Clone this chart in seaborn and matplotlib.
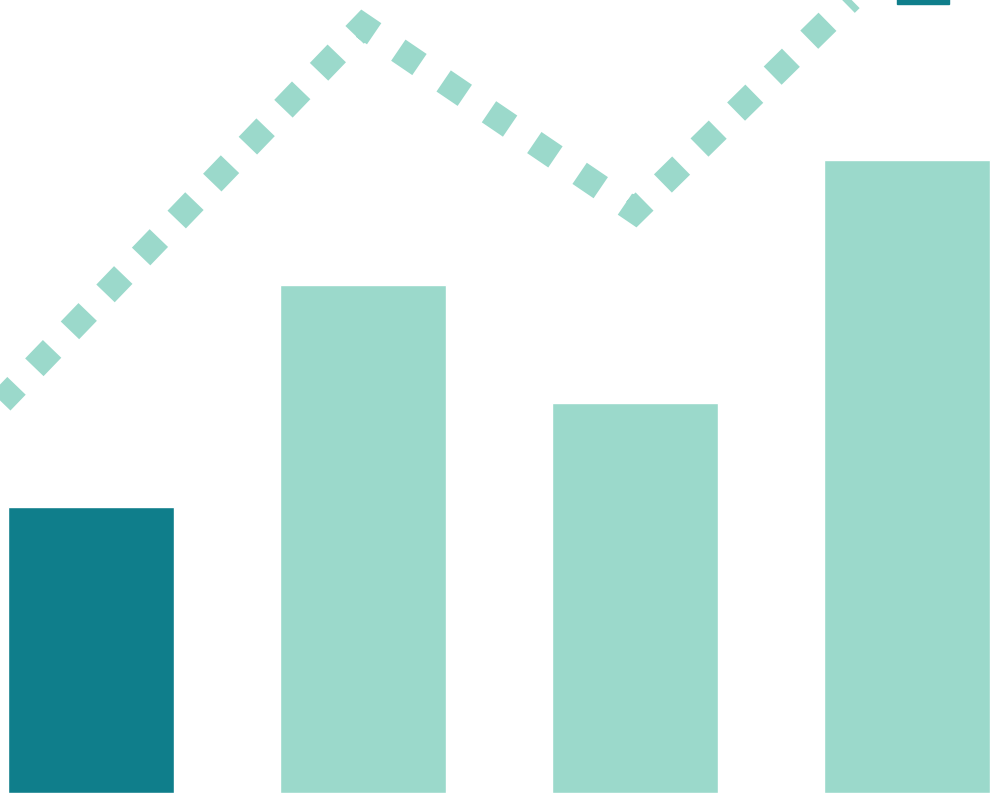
import matplotlib
matplotlib.use("Agg")
import matplotlib.pyplot as plt
import pandas as pd
import seaborn as sns

# bar data (y axis 0..100 spans the full image height)
categories = ["A", "B", "C", "D"]
bar_values = [36.1, 64.1, 49.2, 79.8]
bar_colors = ["#0F7E8B", "#9BD9CB", "#9BD9CB", "#9BD9CB"]

# dotted trend line vertices (starts at the left edge)
line_x = [-0.33, 1.0, 2.0, 3.0]
line_y = [49.35, 96.7, 73.4, 107.1]

# dark end marker, mostly off the top edge
end_x = [3.06]
end_y = [102.8]

LIGHT = "#9BD9CB"
DARK = "#0F7E8B"

# square dashes (units of line width); the falling leg is spaced a bit wider,
# so that one dash sits right on the peak and one on the valley
dash_seq = [1, 1.007] * 10 + [1, 1.144] * 6 + [1, 0.99] * 10
dash_offset = 0.14

df = pd.DataFrame({"cat": categories, "value": bar_values})

sns.set_style("white")
fig = plt.figure(figsize=(9.91, 7.93), dpi=100)
ax = fig.add_axes([0, 0, 1, 1])

sns.barplot(data=df, x="cat", y="value", hue="cat", palette=bar_colors,
            width=0.61, saturation=1, legend=False, ax=ax, zorder=1)

sns.lineplot(x=line_x, y=line_y, ax=ax, color=LIGHT, linewidth=18.4,
             linestyle=(dash_offset, dash_seq), dash_joinstyle="miter",
             dash_capstyle="butt", sort=False, zorder=2)

ax.plot(end_x, end_y, marker="s", markersize=38, color=DARK,
        linestyle="none", zorder=3)

ax.set_xlim(-0.3346, 3.309)
ax.set_ylim(0, 100)
ax.axis("off")

fig.savefig("out.png", dpi=100)
